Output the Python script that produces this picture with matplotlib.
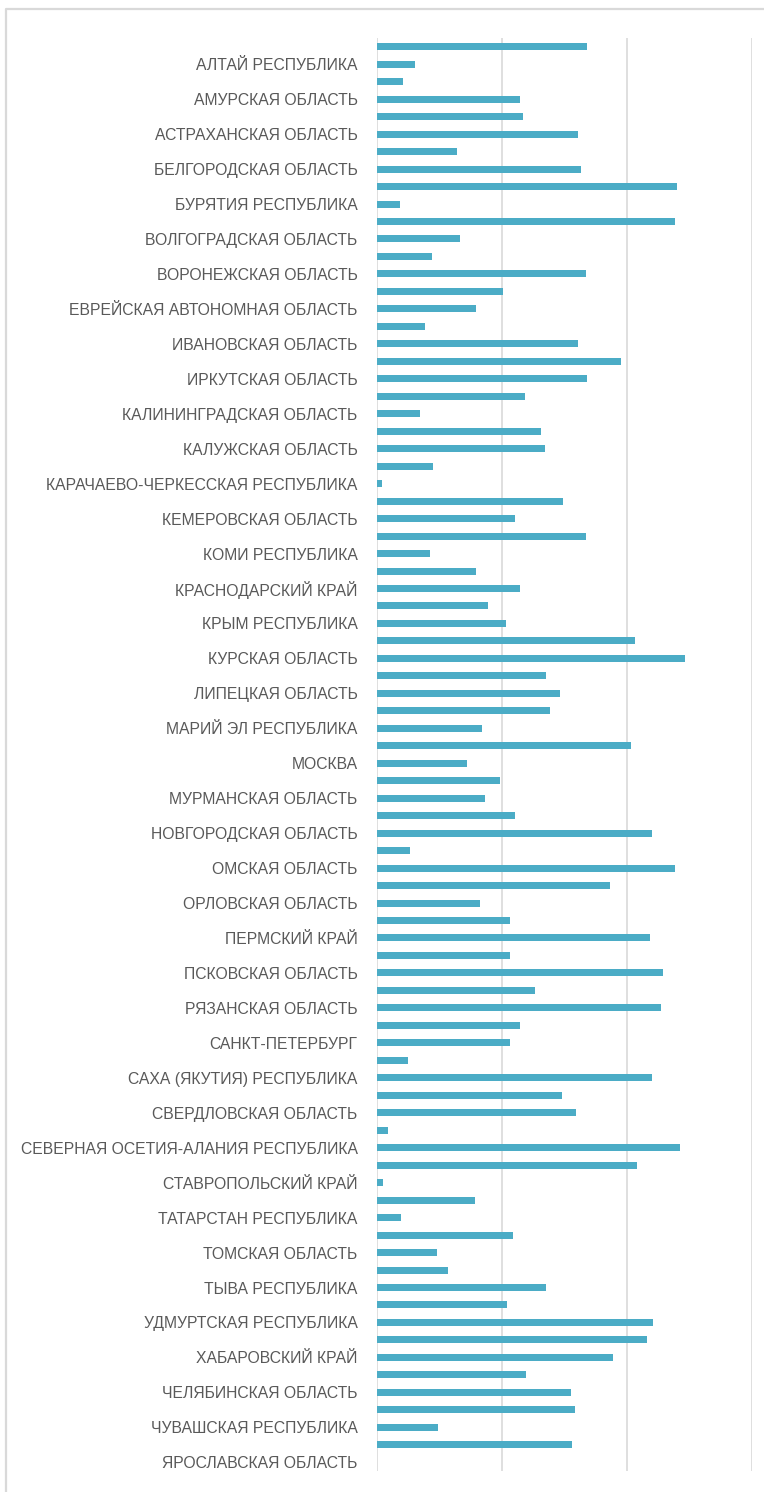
import matplotlib.pyplot as plt
import matplotlib.lines as mlines

# labels that are shown (every other category, top to bottom)
labels = [
    "АЛТАЙ РЕСПУБЛИКА", "АМУРСКАЯ ОБЛАСТЬ", "АСТРАХАНСКАЯ ОБЛАСТЬ",
    "БЕЛГОРОДСКАЯ ОБЛАСТЬ", "БУРЯТИЯ РЕСПУБЛИКА", "ВОЛГОГРАДСКАЯ ОБЛАСТЬ",
    "ВОРОНЕЖСКАЯ ОБЛАСТЬ", "ЕВРЕЙСКАЯ АВТОНОМНАЯ ОБЛАСТЬ", "ИВАНОВСКАЯ ОБЛАСТЬ",
    "ИРКУТСКАЯ ОБЛАСТЬ", "КАЛИНИНГРАДСКАЯ ОБЛАСТЬ", "КАЛУЖСКАЯ ОБЛАСТЬ",
    "КАРАЧАЕВО-ЧЕРКЕССКАЯ РЕСПУБЛИКА", "КЕМЕРОВСКАЯ ОБЛАСТЬ", "КОМИ РЕСПУБЛИКА",
    "КРАСНОДАРСКИЙ КРАЙ", "КРЫМ РЕСПУБЛИКА", "КУРСКАЯ ОБЛАСТЬ",
    "ЛИПЕЦКАЯ ОБЛАСТЬ", "МАРИЙ ЭЛ РЕСПУБЛИКА", "МОСКВА", "МУРМАНСКАЯ ОБЛАСТЬ",
    "НОВГОРОДСКАЯ ОБЛАСТЬ", "ОМСКАЯ ОБЛАСТЬ", "ОРЛОВСКАЯ ОБЛАСТЬ",
    "ПЕРМСКИЙ КРАЙ", "ПСКОВСКАЯ ОБЛАСТЬ", "РЯЗАНСКАЯ ОБЛАСТЬ",
    "САНКТ-ПЕТЕРБУРГ", "САХА (ЯКУТИЯ) РЕСПУБЛИКА", "СВЕРДЛОВСКАЯ ОБЛАСТЬ",
    "СЕВЕРНАЯ ОСЕТИЯ-АЛАНИЯ РЕСПУБЛИКА", "СТАВРОПОЛЬСКИЙ КРАЙ",
    "ТАТАРСТАН РЕСПУБЛИКА", "ТОМСКАЯ ОБЛАСТЬ", "ТЫВА РЕСПУБЛИКА",
    "УДМУРТСКАЯ РЕСПУБЛИКА", "ХАБАРОВСКИЙ КРАЙ", "ЧЕЛЯБИНСКАЯ ОБЛАСТЬ",
    "ЧУВАШСКАЯ РЕСПУБЛИКА", "ЯРОСЛАВСКАЯ ОБЛАСТЬ",
]

# all 82 bar values, top to bottom
values = [
    1.68, 0.30, 0.21, 1.14, 1.17, 1.61, 0.64, 1.63, 2.40, 0.18,
    2.38, 0.66, 0.44, 1.67, 1.01, 0.79, 0.38, 1.61, 1.95, 1.68,
    1.18, 0.34, 1.31, 1.34, 0.45, 0.04, 1.49, 1.10, 1.67, 0.42,
    0.79, 1.14, 0.89, 1.03, 2.06, 2.46, 1.35, 1.46, 1.38, 0.84,
    2.03, 0.72, 0.98, 0.86, 1.10, 2.20, 0.26, 2.38, 1.86, 0.82,
    1.06, 2.18, 1.06, 2.29, 1.26, 2.27, 1.14, 1.06, 0.25, 2.20,
    1.48, 1.59, 0.09, 2.42, 2.08, 0.05, 0.78, 0.19, 1.09, 0.48,
    0.57, 1.35, 1.04, 2.21, 2.16, 1.89, 1.19, 1.55, 1.58, 0.49,
    1.56, 0.0,
]

bar_color = "#4bacc6"
grid_color = "#d9d9d9"
text_color = "#595959"

W, H = 764, 1492
fig = plt.figure(figsize=(W / 100, H / 100), dpi=100)
ax = fig.add_axes([377 / W, 1 - 1471 / H, (752 - 377) / W, (1471 - 38) / H])

pos = list(range(len(values)))
ax.barh(pos, values, height=0.4, color=bar_color, zorder=3)
ax.set_ylim(len(values) - 0.5, -0.5)
ax.set_xlim(0, 3)

ax.set_yticks(pos[1::2])
ax.set_yticklabels(labels, fontsize=11.3, color=text_color, family="Liberation Sans")
ax.tick_params(axis="y", length=0, pad=14)
ax.set_xticks([0, 1, 2, 3])
ax.set_xticklabels([])
ax.tick_params(axis="x", length=0)
ax.grid(axis="x", color=grid_color, linewidth=1.2, zorder=0)
for s in ax.spines.values():
    s.set_visible(False)

# chart area border (cut off at right and bottom)
fig.add_artist(mlines.Line2D([6 / W, 6 / W, 1], [0, 1 - 9 / H, 1 - 9 / H],
                             color=grid_color, linewidth=1.6))

fig.savefig("out.png", dpi=100)
